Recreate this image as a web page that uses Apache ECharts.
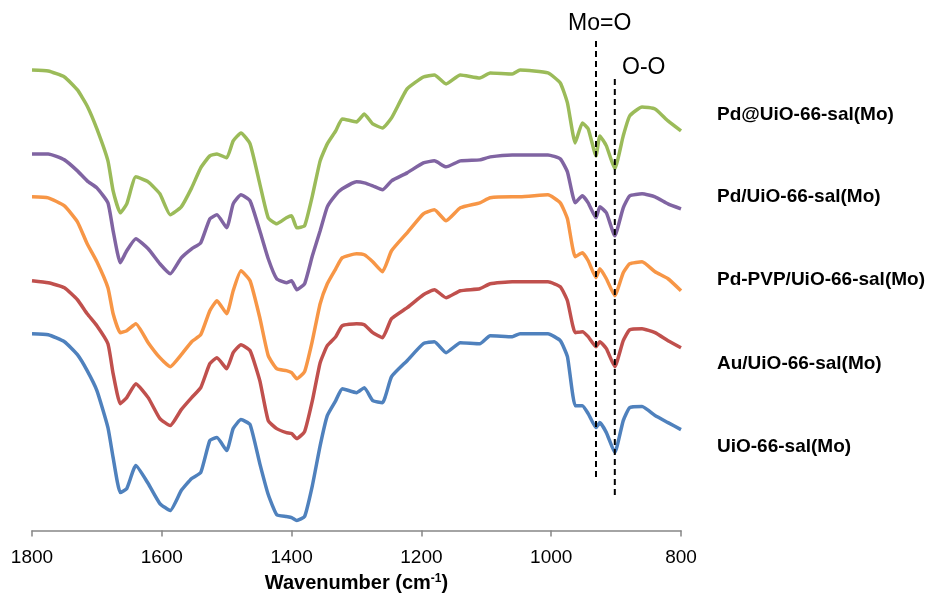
<!DOCTYPE html>
<html>
<head>
<meta charset="utf-8">
<script src="https://cdn.jsdelivr.net/npm/echarts@6/dist/echarts.min.js"></script>
<style>
  html, body { margin: 0; padding: 0; background: #fff; }
  #chart { width: 927px; height: 598px; }
</style>
</head>
<body>
<div id="chart"></div>
<script>
// 波数 (cm-1)
const wavenumbers = [1800, 1775, 1750, 1730, 1715, 1700, 1683, 1675, 1664, 1654, 1640, 1621, 1603, 1587, 1570, 1554, 1540, 1526, 1515, 1500, 1490, 1478, 1464, 1449, 1436, 1423, 1408, 1400, 1392, 1380, 1368, 1356, 1345, 1332, 1322, 1300, 1288, 1275, 1260, 1246, 1222, 1197, 1180, 1162, 1140, 1110, 1094, 1060, 1048, 1005, 986, 975, 963, 952, 943, 931, 925, 915, 902, 889, 879, 860, 840, 820, 800]

// 各样品的透过率（堆叠后的相对值）
const pdAtUio = [461, 460, 454, 441, 425, 402, 370, 340, 318, 327, 354, 349, 337, 316, 324, 343, 363, 375, 377, 373, 390, 398, 387, 347, 313, 307, 313, 315, 303, 305, 335, 370, 387, 400, 412, 409, 417, 407, 403, 413, 442, 454, 456, 447, 456, 453, 458, 457, 461, 458, 448, 428, 388, 408, 402, 375, 395, 385, 362, 395, 415, 424, 422, 410, 400]
const pdOnUio = [377, 377, 371, 360, 350, 343, 328, 300, 268, 280, 292, 282, 267, 257, 273, 282, 288, 312, 316, 303, 327, 336, 330, 300, 272, 252, 248, 250, 241, 247, 275, 300, 324, 336, 342, 349, 348, 345, 341, 350, 358, 368, 370, 364, 370, 371, 374, 376, 376, 376, 372, 359, 328, 335, 328, 313, 324, 318, 295, 323, 335, 337, 334, 327, 322]
const pdPvpUio = [334, 333, 325, 309, 287, 269, 243, 217, 198, 200, 207, 188, 173, 164, 176, 189, 196, 220, 230, 217, 240, 260, 250, 213, 175, 162, 160, 158, 152, 159, 190, 227, 247, 262, 273, 277, 276, 269, 259, 280, 298, 317, 321, 310, 323, 328, 333, 334, 334, 336, 328, 312, 274, 278, 270, 253, 262, 252, 235, 258, 267, 269, 259, 252, 240]
const auOnUio = [250, 248, 243, 231, 217, 205, 187, 157, 127, 133, 147, 133, 112, 105, 121, 133, 143, 167, 173, 162, 178, 186, 180, 150, 110, 102, 98, 97, 92, 99, 130, 168, 185, 194, 205, 207, 206, 198, 193, 212, 223, 236, 241, 233, 240, 242, 247, 249, 249, 249, 244, 230, 198, 199, 194, 184, 189, 182, 164, 190, 201, 202, 198, 190, 183]
const uioSal = [197, 196, 189, 176, 160, 140, 103, 73, 38, 42, 65, 47, 27, 20, 40, 52, 58, 90, 93, 80, 102, 111, 106, 67, 36, 16, 14, 13, 10, 14, 45, 85, 115, 130, 142, 138, 143, 130, 128, 154, 170, 187, 189, 178, 188, 187, 195, 194, 197, 197, 190, 174, 125, 125, 117, 103, 108, 98, 78, 110, 123, 124, 115, 108, 101]

const seriesNames = ['Pd@UiO-66-sal(Mo)', 'Pd/UiO-66-sal(Mo)', 'Pd-PVP/UiO-66-sal(Mo)', 'Au/UiO-66-sal(Mo)', 'UiO-66-sal(Mo)']
const seriesValues = [pdAtUio, pdOnUio, pdPvpUio, auOnUio, uioSal]
const seriesColors = ['#9BBB59', '#8064A2', '#F79646', '#C0504D', '#4F81BD']

// 特征峰标记线
const markerWn = [931, 902]
const markerTop = [490, 452]
const markerBottom = [52, 35]
const markerNames = ['Mo=O', 'O-O']

const FONT = '"Liberation Sans", Arial, sans-serif'

let chart = echarts.init(document.getElementById('chart'))

let _series = seriesValues.map((vals, i) => ({
  name: seriesNames[i],
  type: 'line',
  data: wavenumbers.map((w, j) => [w, vals[j]]),
  showSymbol: false,
  smooth: 0.15,
  lineStyle: { color: seriesColors[i], width: 3.5 },
  itemStyle: { color: seriesColors[i] },
  z: 3
}))

markerWn.forEach((w, i) => {
  _series.push({
    type: 'line',
    data: [[w, markerTop[i]], [w, markerBottom[i]]],
    showSymbol: false,
    lineStyle: { color: '#000', width: 2, type: [6, 4] },
    z: 4
  })
})

// 右侧样品名称
let labelY = [115, 197, 280, 364, 447]
let graphics = seriesNames.map((n, i) => ({
  type: 'text',
  x: 717,
  y: labelY[i],
  style: { text: n, font: 'bold 19px ' + FONT, fill: '#000', textVerticalAlign: 'middle' }
}))
graphics.push({
  type: 'text', x: 568, y: 24,
  style: { text: markerNames[0], font: '23px ' + FONT, fill: '#000', textVerticalAlign: 'middle' }
})
graphics.push({
  type: 'text', x: 622, y: 68,
  style: { text: markerNames[1], font: '23px ' + FONT, fill: '#000', textVerticalAlign: 'middle' }
})

chart.setOption({
  animation: false,
  backgroundColor: '#fff',
  grid: { left: 32, right: 246, top: 31, bottom: 67 },
  xAxis: {
    type: 'value',
    min: 800,
    max: 1800,
    interval: 200,
    inverse: true,
    name: '{a|Wavenumber (cm}{s|-1}{a|)}',
    nameLocation: 'middle',
    nameGap: 42,
    nameTextStyle: {
      rich: {
        a: { fontFamily: FONT, fontWeight: 'bold', fontSize: 20, color: '#000' },
        s: { fontFamily: FONT, fontWeight: 'bold', fontSize: 12, color: '#000', verticalAlign: 'top', padding: [0, 0, 9, 0] }
      }
    },
    axisLine: { lineStyle: { color: '#868686', width: 1.5 } },
    axisTick: { show: true, length: 6, lineStyle: { color: '#868686', width: 1.5 } },
    axisLabel: {
      color: '#000', fontSize: 19, margin: 18, fontFamily: FONT,
      formatter: v => String(v)
    },
    splitLine: { show: false }
  },
  yAxis: {
    type: 'value',
    min: 0,
    max: 500,
    show: false
  },
  graphic: graphics,
  series: _series
})
</script>
</body>
</html>
